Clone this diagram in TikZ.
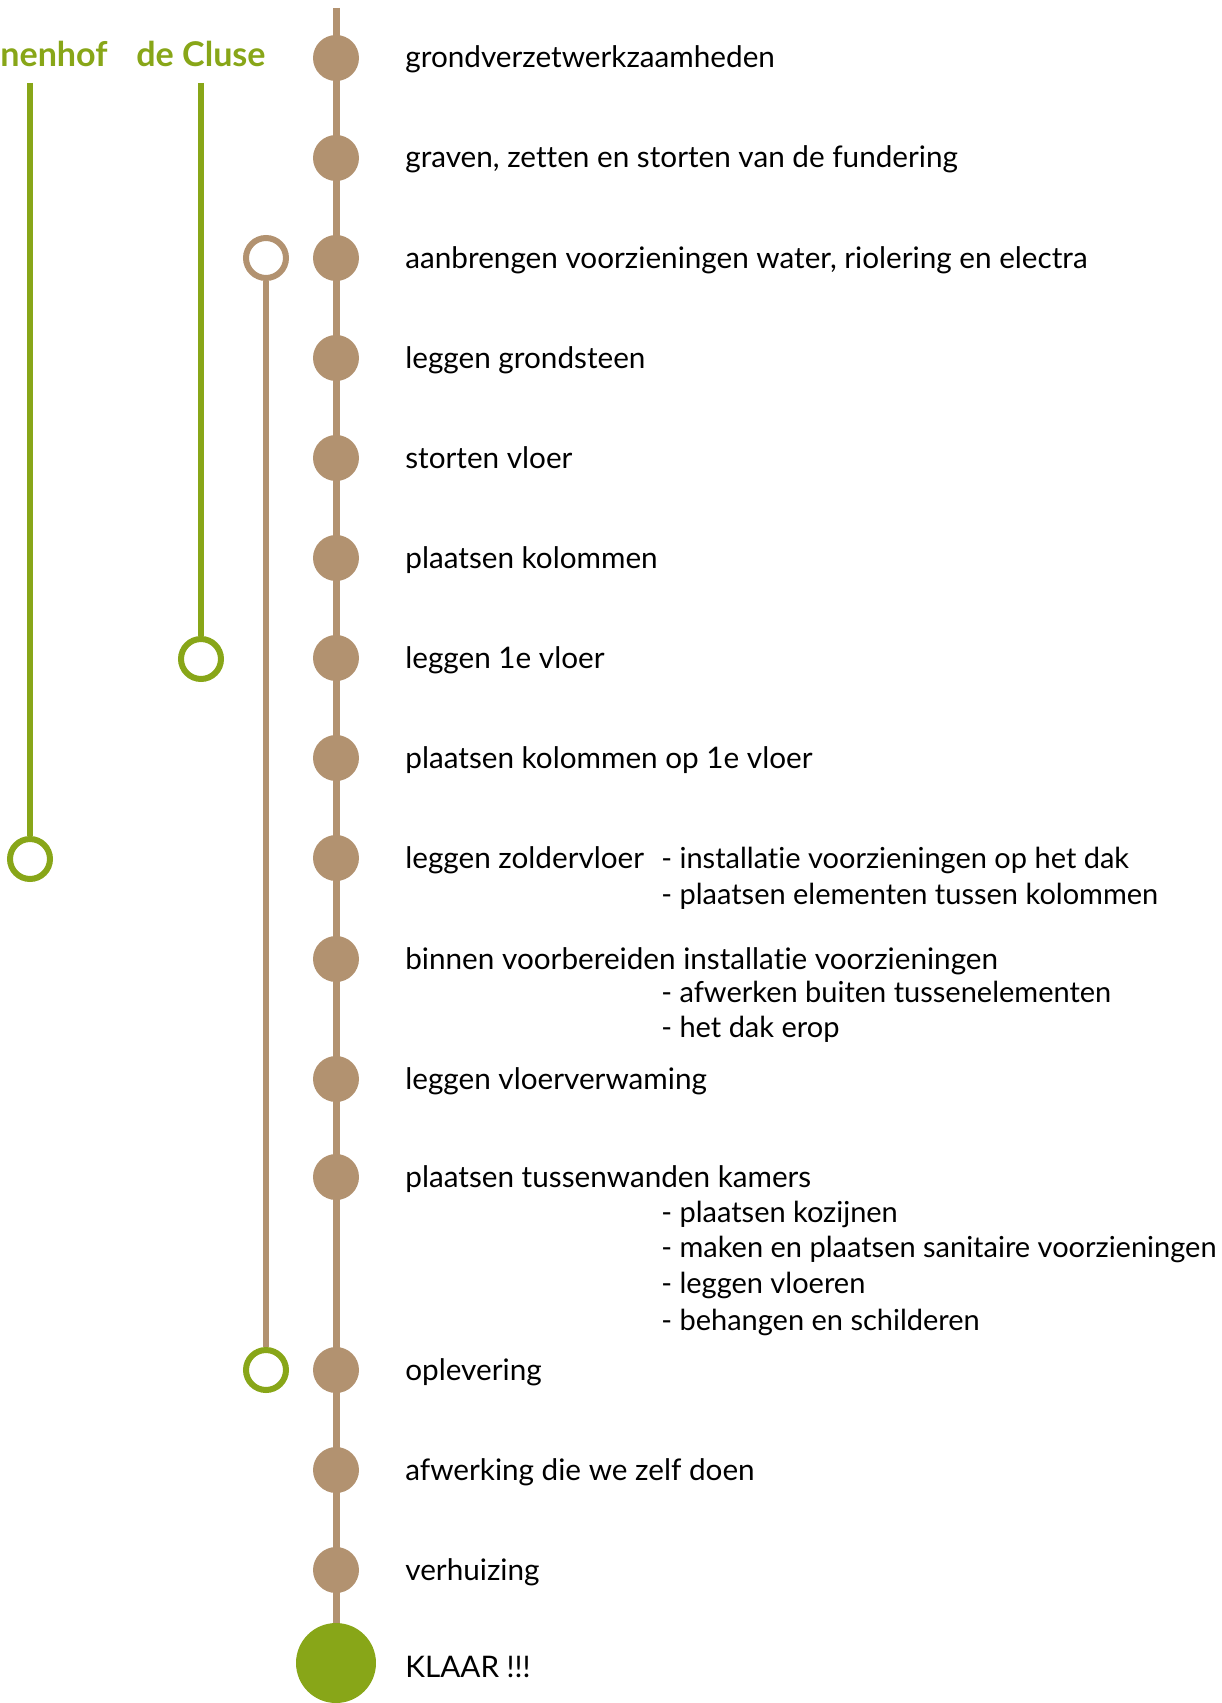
\documentclass[tikz,border=0pt]{standalone}
\usepackage{fontspec}
\setmainfont{Lato}[Ligatures=NoCommon]
\definecolor{cluse}{RGB}{136,166,24}
\definecolor{zand}{RGB}{178,146,112}
\tikzset{
  stap/.style={circle,fill=zand,inner sep=0pt,minimum size=0.92cm},
  ring/.style={circle,draw=#1,line width=0.12cm,fill=white,inner sep=0pt,minimum size=0.8cm},
  tekst/.style={anchor=base west,inner sep=0pt,font=\fontsize{16.9}{20}\selectfont},
  detail/.style={anchor=base west,inner sep=0pt,font=\fontsize{16.5}{20}\selectfont},
  kop/.style={text=cluse,inner sep=0pt,font=\fontsize{19.4}{24}\selectfont\bfseries}
}
\begin{document}
\begin{tikzpicture}[x=0.02cm,y=-0.02cm]
\useasboundingbox (0,0) rectangle (1222,1703);
% hoofdlijn
\coordinate (top) at (336,8);
\coordinate (eind) at (336,1663);
\draw[zand,line width=0.14cm] (top) -- (eind);
% stappen
\foreach \y/\t [count=\i] in {58/grondverzetwerkzaamheden,
  158/{graven, zetten en storten van de fundering},
  258/{aanbrengen voorzieningen water, riolering en electra},
  358/leggen grondsteen, 458/storten vloer, 558/plaatsen kolommen,
  658/leggen 1e vloer, 758/plaatsen kolommen op 1e vloer,
  858/leggen zoldervloer, 959/binnen voorbereiden installatie voorzieningen,
  1079/leggen vloerverwaming, 1177/plaatsen tussenwanden kamers,
  1370/oplevering, 1470/afwerking die we zelf doen, 1570/verhuizing}{
  \node[stap] (s\i) at (336,\y) {};
  \node[tekst] (t\i) at (405,\y+10) {\t};
}
\node[circle,fill=cluse,inner sep=0pt,minimum size=1.6cm] (klaar) at (eind) {};
\node[tekst] (tklaar) at (405,1677) {KLAAR !!!};
% details
\foreach \y/\t [count=\i] in {868/installatie voorzieningen op het dak,
  904/plaatsen elementen tussen kolommen,
  1002/afwerken buiten tussenelementen, 1037/het dak erop,
  1222/plaatsen kozijnen, 1257/maken en plaatsen sanitaire voorzieningen,
  1293/leggen vloeren, 1330/behangen en schilderen}
  \node[detail] (d\i) at (661,\y) {- \t};
% zijlijnen
\coordinate (c1) at (30,83);
\coordinate (c2) at (201,83);
\node[ring=zand] (r1) at (266,258) {};
\node[ring=cluse] (r2) at (266,1370) {};
\node[ring=cluse] (r3) at (30,859) {};
\node[ring=cluse] (r4) at (201,659) {};
\draw[zand,line width=0.12cm] (r1) -- (r2);
\draw[cluse,line width=0.12cm] (c1) -- (r3);
\draw[cluse,line width=0.12cm] (c2) -- (r4);
\node[kop,anchor=base west] (h1) at (0,67) {nenhof};
\node[kop,anchor=base] (h2) at (201,67) {de Cluse};
\end{tikzpicture}
\end{document}
